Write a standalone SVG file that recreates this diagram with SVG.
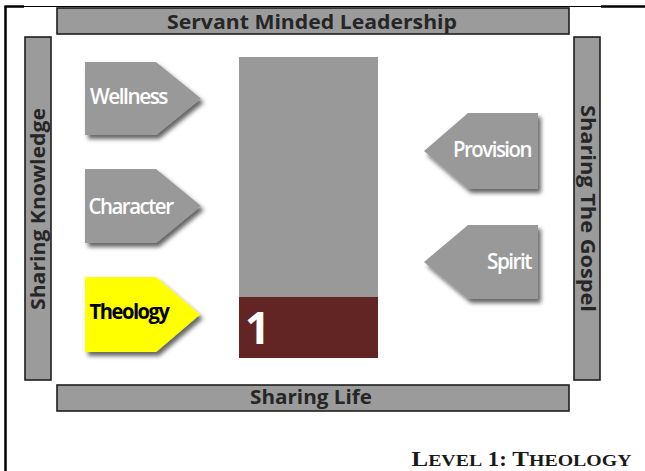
<svg xmlns="http://www.w3.org/2000/svg" width="645" height="471" viewBox="0 0 645 471">
  <style>
    .bar { fill: #9b9b9b; stroke: #1e1e1e; stroke-width: 1.6; }
    .barlabel { font-family: "Open Sans", "Liberation Sans", sans-serif; font-weight: bold; font-size: 20px; fill: #262626; }
    .arrow { fill: #999999; filter: url(#shadow); }
    .label { font-family: "Open Sans", "Liberation Sans", sans-serif; font-weight: 600; font-size: 21px; fill: #ffffff; letter-spacing: -1.5px; }
    .caption { font-family: "Liberation Serif", "DejaVu Serif", serif; font-weight: bold; fill: #1a1a1a; }
  </style>
  <defs>
    <filter id="shadow" x="-20%" y="-20%" width="150%" height="150%">
      <feGaussianBlur in="SourceAlpha" stdDeviation="2"/>
      <feOffset dx="3" dy="4" result="blur"/>
      <feFlood flood-color="#000000" flood-opacity="0.6"/>
      <feComposite in2="blur" operator="in"/>
      <feMerge>
        <feMergeNode/>
        <feMergeNode in="SourceGraphic"/>
      </feMerge>
    </filter>
  </defs>

  <rect width="645" height="471" fill="#ffffff"/>

  <!-- page frame: top and left rules -->
  <g id="frame" stroke="#000000" fill="none">
    <line x1="5.5" y1="6" x2="5.5" y2="471" stroke-width="2.5"/>
    <line x1="4.5" y1="6.5" x2="24" y2="6.5" stroke-width="2.5"/>
    <line x1="24" y1="6.5" x2="601" y2="6.5" stroke-width="1"/>
    <line x1="601" y1="6.5" x2="645" y2="6.5" stroke-width="2.5"/>
  </g>

  <!-- surrounding bars -->
  <g id="bar-top">
    <rect class="bar" x="57" y="8" width="512" height="26"/>
    <text class="barlabel" x="312" y="28.5" text-anchor="middle" textLength="290" lengthAdjust="spacingAndGlyphs">Servant Minded Leadership</text>
  </g>
  <g id="bar-bottom">
    <rect class="bar" x="57" y="385" width="512" height="26"/>
    <text class="barlabel" x="311" y="403.5" text-anchor="middle" textLength="122" lengthAdjust="spacingAndGlyphs">Sharing Life</text>
  </g>
  <g id="bar-left">
    <rect class="bar" x="25" y="37" width="26" height="343"/>
    <text class="barlabel" transform="translate(44.5 209) rotate(-90)" x="0" y="0" text-anchor="middle" textLength="202" lengthAdjust="spacingAndGlyphs">Sharing Knowledge</text>
  </g>
  <g id="bar-right">
    <rect class="bar" x="574" y="37" width="26" height="343"/>
    <text class="barlabel" transform="translate(580.5 208.5) rotate(90)" x="0" y="0" text-anchor="middle" textLength="207" lengthAdjust="spacingAndGlyphs">Sharing The Gospel</text>
  </g>

  <!-- central level column -->
  <g id="column">
    <rect x="239" y="57" width="139" height="240" fill="#999999"/>
    <rect x="239" y="297" width="139" height="61" fill="#632523"/>
    <text x="245" y="344" font-family="'Open Sans', 'Liberation Sans', sans-serif" font-weight="bold" font-size="44" fill="#ffffff">1</text>
  </g>

  <!-- right-pointing stages -->
  <g id="wellness">
    <path class="arrow" d="M85,62 H156 L201,98.5 L156,135 H85 Z"/>
    <text class="label" x="90" y="104" textLength="77" lengthAdjust="spacingAndGlyphs">Wellness</text>
  </g>
  <g id="character">
    <path class="arrow" d="M85,169 H156 L201,206 L156,243 H85 Z"/>
    <text class="label" x="88.5" y="214" textLength="84" lengthAdjust="spacingAndGlyphs">Character</text>
  </g>
  <g id="theology">
    <path class="arrow" d="M85,277 H156 L200,314.5 L156,352 H85 Z" style="fill:#ffff00"/>
    <text class="label" x="89.5" y="319" textLength="79" lengthAdjust="spacingAndGlyphs" style="fill:#000000;font-weight:bold">Theology</text>
  </g>

  <!-- left-pointing stages -->
  <g id="provision">
    <path class="arrow" d="M538,113 H468 L424,151 L468,189 H538 Z"/>
    <text class="label" x="453" y="157" textLength="78" lengthAdjust="spacingAndGlyphs">Provision</text>
  </g>
  <g id="spirit">
    <path class="arrow" d="M538,225 H468 L424,262 L468,299 H538 Z"/>
    <text class="label" x="487" y="268.5" textLength="44" lengthAdjust="spacingAndGlyphs">Spirit</text>
  </g>

  <!-- caption -->
  <g id="caption">
    <text class="caption" x="411.5" y="465.5" textLength="220" lengthAdjust="spacingAndGlyphs"><tspan font-size="22">L</tspan><tspan font-size="17.5">EVEL</tspan><tspan font-size="20"> 1:  </tspan><tspan font-size="22">T</tspan><tspan font-size="17.5">HEOLOGY</tspan></text>
  </g>
</svg>
